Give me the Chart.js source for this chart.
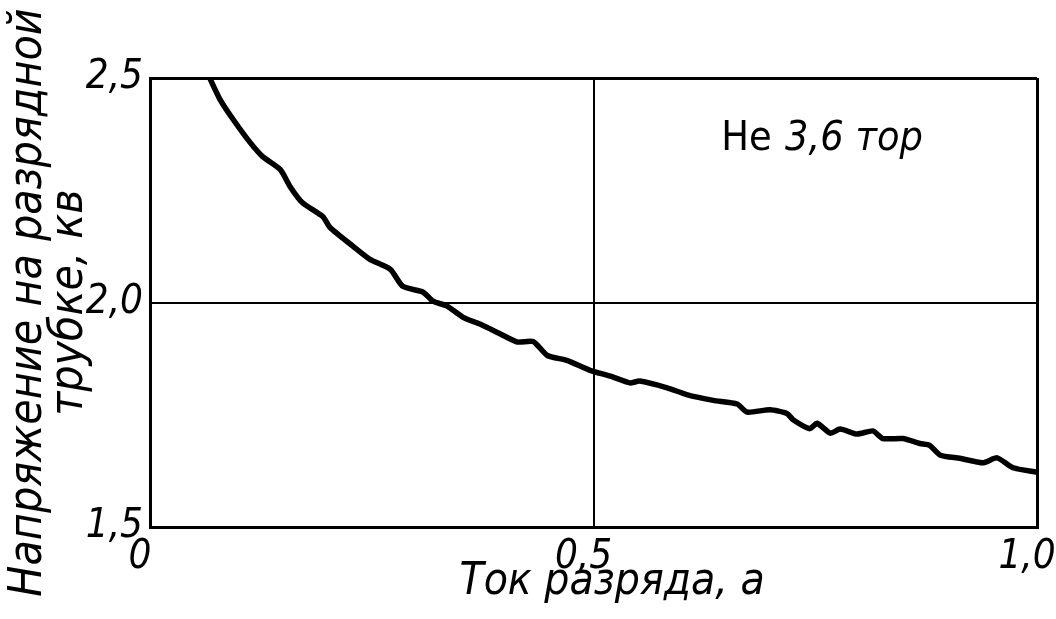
<!DOCTYPE html>
<html>
<head>
<meta charset="utf-8">
<script src="https://cdn.jsdelivr.net/npm/chart.js@4"></script>
<style>
html,body{margin:0;padding:0;background:#fff;}
#wrap{width:1056px;height:619px;position:relative;}
</style>
</head>
<body>
<div id="wrap"><canvas id="c" width="1056" height="619"></canvas></div>
<script>
// Discharge current, A
const currentA = [0.068,0.079,0.094,0.113,0.127,0.147,0.158,0.172,0.195,0.203,0.229,0.248,0.271,0.285,0.308,0.319,0.335,0.353,0.372,0.395,0.414,0.432,0.448,0.470,0.496,0.519,0.541,0.552,0.583,0.605,0.635,0.662,0.673,0.699,0.718,0.725,0.744,0.752,0.767,0.778,0.797,0.815,0.826,0.849,0.868,0.879,0.891,0.913,0.939,0.955,0.973,1.0];
// Tube voltage, kV
const voltageKV = [2.497,2.452,2.407,2.356,2.325,2.296,2.258,2.222,2.191,2.167,2.125,2.096,2.074,2.036,2.023,2.003,1.992,1.967,1.952,1.930,1.912,1.913,1.882,1.871,1.849,1.836,1.821,1.825,1.810,1.795,1.782,1.774,1.756,1.761,1.753,1.739,1.719,1.731,1.709,1.718,1.707,1.714,1.697,1.697,1.686,1.682,1.660,1.653,1.643,1.654,1.632,1.622];
const xTickValues = [0, 0.5, 1.0];
const xTickLabels = ['0', '0,5', '1,0'];
const yTickValues = [1.5, 2.0, 2.5];
const yTickLabels = ['1,5', '2,0', '2,5'];
const xTitle = 'Ток разряда, а';
const yTitle = ['Напряжение на разрядной', 'трубке, кв'];
const noteGas = 'He';
const noteValue = '3,6 тор';

const FONT = '"Liberation Sans Narrow", "DejaVu Sans Condensed", "Liberation Sans", sans-serif';

const points = currentA.map((x, i) => ({x: x, y: voltageKV[i]}));

const textPlugin = {
  id: 'texts',
  afterDraw(chart) {
    const ctx = chart.ctx;
    const xs = chart.scales.x, ys = chart.scales.y;
    ctx.save();
    ctx.fillStyle = '#000';
    ctx.textBaseline = 'alphabetic';
    ctx.textAlign = 'left';
    // note in the upper right
    const by = ys.getPixelForValue(2.34);
    ctx.font = '41px ' + FONT;
    ctx.fillText(noteGas, xs.getPixelForValue(0.644), by);
    ctx.font = 'italic 41px ' + FONT;
    ctx.fillText(noteValue, xs.getPixelForValue(0.716), by);
    // x-axis title
    ctx.textAlign = 'center';
    ctx.textBaseline = 'middle';
    ctx.font = 'italic 44px ' + FONT;
    ctx.fillText(xTitle, xs.getPixelForValue(0.521), 583);
    ctx.restore();
  }
};

new Chart(document.getElementById('c'), {
  type: 'scatter',
  data: {
    datasets: [{
      data: points,
      showLine: true,
      borderColor: '#000',
      borderWidth: 5.5,
      pointRadius: 0,
      tension: 0.2,
      borderCapStyle: 'round',
      borderJoinStyle: 'round'
    }]
  },
  options: {
    responsive: false,
    animation: false,
    layout: {padding: {left: 0, right: 19, top: 78, bottom: 0}},
    plugins: {legend: {display: false}, tooltip: {enabled: false}},
    scales: {
      x: {
        type: 'linear', min: 0, max: 1,
        afterBuildTicks: s => { s.ticks = xTickValues.map(v => ({value: v})); },
        afterFit: s => { s.height = 92; s.paddingLeft = 0; s.paddingRight = 0; },
        ticks: {
          callback: (v) => xTickLabels[xTickValues.indexOf(v)],
          color: '#000',
          font: {family: FONT, size: 40, style: 'italic'},
          padding: 7,
          labelOffset: -10,
          maxRotation: 0
        },
        grid: {
          color: '#000',
          lineWidth: c => (c.index === 1 ? 2 : 3),
          drawTicks: false
        },
        border: {display: true, color: '#000', width: 3},
        title: {display: false}
      },
      y: {
        type: 'linear', min: 1.5, max: 2.5,
        afterBuildTicks: s => { s.ticks = yTickValues.map(v => ({value: v})); },
        afterFit: s => { s.width = 150; },
        ticks: {
          callback: (v) => yTickLabels[yTickValues.indexOf(v)],
          color: '#000',
          font: {family: FONT, size: 40, style: 'italic'},
          padding: 7
        },
        grid: {
          color: '#000',
          lineWidth: c => (c.index === 1 ? 2 : 3),
          drawTicks: false
        },
        border: {display: true, color: '#000', width: 3},
        title: {
          display: true, text: yTitle, color: '#000',
          font: {family: FONT, size: 46, style: 'italic', lineHeight: 0.88},
          padding: {top: 9, bottom: 0}
        }
      }
    }
  },
  plugins: [textPlugin]
});
</script>
</body>
</html>
